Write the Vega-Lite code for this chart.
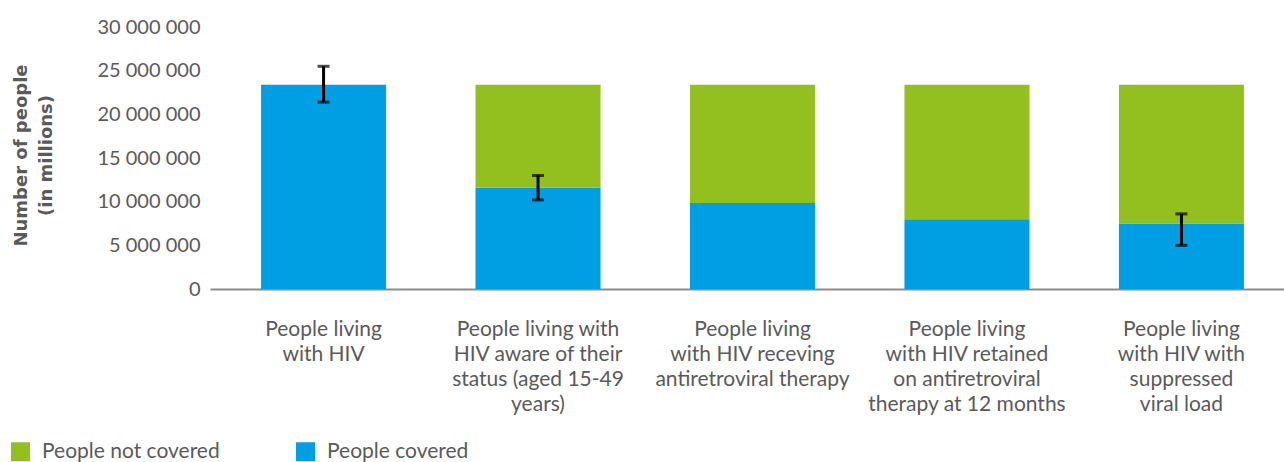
{
  "$schema": "https://vega.github.io/schema/vega-lite/v6.json",
  "width": 1074,
  "height": 262,
  "autosize": {"type": "none"},
  "padding": {"left": 210, "top": 27, "right": 0, "bottom": 173},
  "background": "white",
  "config": {
    "view": {"stroke": null},
    "font": "Lato",
    "text": {"font": "Lato"}
  },
  "datasets": {
    "bars": [
      {"category": "People living\nwith HIV", "group": "People covered", "ord": 1, "value": 23400000},
      {"category": "People living\nwith HIV", "group": "People not covered", "ord": 2, "value": 0},
      {"category": "People living with\nHIV aware of their\nstatus (aged 15-49\nyears)", "group": "People covered", "ord": 1, "value": 11600000},
      {"category": "People living with\nHIV aware of their\nstatus (aged 15-49\nyears)", "group": "People not covered", "ord": 2, "value": 11800000},
      {"category": "People living\nwith HIV receving\nantiretroviral therapy", "group": "People covered", "ord": 1, "value": 9850000},
      {"category": "People living\nwith HIV receving\nantiretroviral therapy", "group": "People not covered", "ord": 2, "value": 13550000},
      {"category": "People living\nwith HIV retained\non antiretroviral\ntherapy at 12 months", "group": "People covered", "ord": 1, "value": 8000000},
      {"category": "People living\nwith HIV retained\non antiretroviral\ntherapy at 12 months", "group": "People not covered", "ord": 2, "value": 15400000},
      {"category": "People living\nwith HIV with\nsuppressed\nviral load", "group": "People covered", "ord": 1, "value": 7500000},
      {"category": "People living\nwith HIV with\nsuppressed\nviral load", "group": "People not covered", "ord": 2, "value": 15900000}
    ],
    "errors": [
      {"category": "People living\nwith HIV", "lo": 21400000, "hi": 25500000},
      {"category": "People living with\nHIV aware of their\nstatus (aged 15-49\nyears)", "lo": 10200000, "hi": 13000000},
      {"category": "People living\nwith HIV with\nsuppressed\nviral load", "lo": 5000000, "hi": 8600000}
    ]
  },
  "layer": [
    {
      "data": {"name": "bars"},
      "mark": {"type": "bar"},
      "encoding": {
        "x": {
          "field": "category",
          "type": "nominal",
          "sort": null,
          "scale": {"range": [0, 1085], "paddingInner": 0.417, "paddingOuter": 0.238},
          "axis": {
            "title": null,
            "labelAngle": 0,
            "labelExpr": "split(datum.label, '\\n')",
            "labelFontSize": 21,
            "labelColor": "#5a5a5a",
            "labelLineHeight": 25,
            "labelPadding": 29,
            "labelLimit": 0,
            "ticks": false,
            "domainColor": "#8c8c8c",
            "domainWidth": 2
          }
        },
        "y": {
          "field": "value",
          "type": "quantitative",
          "stack": "zero",
          "scale": {"domain": [0, 30000000], "nice": false},
          "axis": {
            "values": [0, 5000000, 10000000, 15000000, 20000000, 25000000, 30000000],
            "labelExpr": "replace(replace(format(datum.value, ','), ',', ' '), ',', ' ')",
            "labelFontSize": 20,
            "labelColor": "#5a5a5a",
            "labelPadding": 10,
            "ticks": false,
            "domain": false,
            "grid": false,
            "title": ["Number of people", "(in millions)"],
            "titleFont": "DejaVu Sans",
            "titleFontSize": 18,
            "titleFontWeight": "bold",
            "titleColor": "#5a5a5a",
            "titleLineHeight": 25,
            "titleAngle": -90,
            "titleAlign": "center",
            "titleBaseline": "top",
            "titleX": -198,
            "titleY": 128
          }
        },
        "color": {
          "field": "group",
          "type": "nominal",
          "scale": {"domain": ["People not covered", "People covered"], "range": ["#93c01f", "#009fe3"]},
          "legend": {
            "title": null,
            "orient": "none",
            "direction": "horizontal",
            "legendX": -200,
            "legendY": 414,
            "symbolType": "square",
            "symbolSize": 361,
            "symbolStrokeWidth": 0,
            "symbolOpacity": 1,
            "labelFontSize": 21,
            "labelColor": "#5a5a5a",
            "labelOffset": 11,
            "labelLimit": 0,
            "columnPadding": 75,
            "padding": 0
          }
        },
        "order": {"field": "ord", "type": "quantitative"}
      }
    },
    {
      "data": {"name": "errors"},
      "mark": {"type": "rule", "color": "#000000", "strokeWidth": 3},
      "encoding": {
        "x": {"field": "category", "type": "nominal", "sort": null},
        "y": {"field": "lo", "type": "quantitative"},
        "y2": {"field": "hi"}
      }
    },
    {
      "data": {"name": "errors"},
      "mark": {"type": "tick", "color": "#000000", "thickness": 3, "size": 12},
      "encoding": {
        "x": {"field": "category", "type": "nominal", "sort": null},
        "y": {"field": "lo", "type": "quantitative"}
      }
    },
    {
      "data": {"name": "errors"},
      "mark": {"type": "tick", "color": "#000000", "thickness": 3, "size": 12},
      "encoding": {
        "x": {"field": "category", "type": "nominal", "sort": null},
        "y": {"field": "hi", "type": "quantitative"}
      }
    }
  ]
}
